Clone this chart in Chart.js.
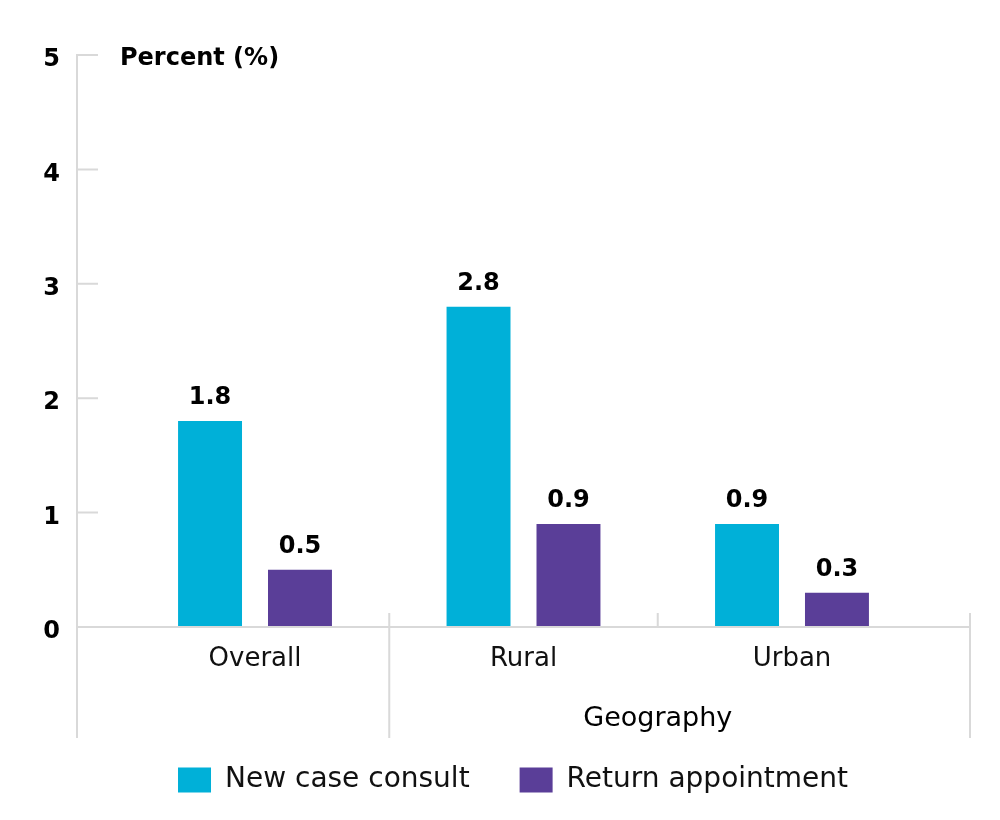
<!DOCTYPE html>
<html>
<head>
<meta charset="utf-8">
<script src="https://cdn.jsdelivr.net/npm/chart.js@4/dist/chart.umd.min.js"></script>
<style>
  body { margin: 0; background: #fff; }
  #wrap { width: 1000px; height: 820px; }
</style>
</head>
<body>
<div id="wrap"><canvas id="myChart" width="1000" height="820"></canvas></div>
<script>
const categories = ["Overall", "Rural", "Urban"];
const newCaseConsult = [1.8, 2.8, 0.9];
const returnAppointment = [0.5, 0.9, 0.3];
const yTicks = [0, 1, 2, 3, 4, 5];
const seriesNames = ["New case consult", "Return appointment"];
const groupLabel = "Geography";

const FONT = "'DejaVu Sans', 'Noto Sans', sans-serif";
const LINE = "#d9d9d9";

// axis lines, short ticks, separators and extra text
const decorPlugin = {
    id: "decor",
    afterLayout(chart) {
        // legend sits a bit right of centre in the original
        chart.legend.left += 28;
        chart.legend.right += 28;
    },
    afterDatasetsDraw(chart) {
        const ctx = chart.ctx;
        const x = chart.scales.x, y = chart.scales.y;
        const left = chart.chartArea.left, right = chart.chartArea.right;
        const zero = y.getPixelForValue(0);
        const bottom = zero + 111;

        ctx.save();
        ctx.strokeStyle = LINE;
        ctx.lineWidth = 2;
        ctx.beginPath();
        // y axis
        ctx.moveTo(left, y.getPixelForValue(5) - 1);
        ctx.lineTo(left, bottom);
        // x axis
        ctx.moveTo(left, zero);
        ctx.lineTo(right, zero);
        // tick marks
        yTicks.forEach(v => {
            const py = y.getPixelForValue(v);
            ctx.moveTo(left, py);
            ctx.lineTo(left + 21, py);
        });
        // separators
        const s1 = x.getPixelForValue(0.5), s2 = x.getPixelForValue(1.5);
        ctx.moveTo(s1, zero - 14); ctx.lineTo(s1, bottom);
        ctx.moveTo(s2, zero - 14); ctx.lineTo(s2, zero);
        ctx.moveTo(right, zero - 14); ctx.lineTo(right, bottom);
        ctx.stroke();

        // value labels
        ctx.fillStyle = "#000";
        ctx.font = "bold 24px " + FONT;
        ctx.textAlign = "center";
        ctx.textBaseline = "bottom";
        chart.data.datasets.forEach((ds, di) => {
            chart.getDatasetMeta(di).data.forEach((bar, i) => {
                ctx.fillText(ds.data[i].y.toFixed(1), bar.x, bar.y - 11);
            });
        });

        // group label
        ctx.font = "27px " + FONT;
        ctx.textBaseline = "middle";
        ctx.fillText(groupLabel, (x.getPixelForValue(1) + x.getPixelForValue(2)) / 2, zero + 92);

        // axis title
        ctx.font = "bold 24px " + FONT;
        ctx.textAlign = "left";
        ctx.fillText("Percent (%)", left + 43, y.getPixelForValue(5) + 4);
        ctx.restore();
    }
};

const ctx = document.getElementById("myChart").getContext("2d");
new Chart(ctx, {
    type: "bar",
    data: {
        datasets: [{
            label: seriesNames[0],
            data: categories.map((c, i) => ({ x: i, y: newCaseConsult[i] })),
            backgroundColor: "#00b0d8"
        }, {
            label: seriesNames[1],
            data: categories.map((c, i) => ({ x: i, y: returnAppointment[i] })),
            backgroundColor: "#5a3e98"
        }]
    },
    options: {
        responsive: false,
        animation: false,
        categoryPercentage: 0.67,
        barPercentage: 0.711,
        layout: { padding: { top: 55, right: 30, left: 0, bottom: 16 } },
        scales: {
            x: {
                type: "linear",
                offset: false,
                min: -0.663,
                max: 2.663,
                grid: { display: false, drawTicks: false },
                border: { display: false },
                afterBuildTicks: scale => {
                    scale.ticks = categories.map((c, i) => ({ value: i }));
                },
                afterFit: scale => { scale.height = 89; },
                ticks: {
                    autoSkip: false,
                    maxRotation: 0,
                    padding: 17,
                    color: "#111",
                    font: { family: FONT, size: 26 },
                    callback: v => categories[v]
                }
            },
            y: {
                min: 0,
                max: 5,
                grid: { display: false, drawTicks: false },
                border: { display: false },
                afterFit: scale => { scale.width = 77; },
                ticks: {
                    stepSize: 1,
                    padding: 17,
                    labelOffset: 5,
                    color: "#000",
                    font: { family: FONT, size: 24, weight: "bold" }
                }
            }
        },
        plugins: {
            legend: {
                position: "bottom",
                labels: {
                    boxWidth: 33,
                    boxHeight: 25,
                    padding: 50,
                    color: "#111",
                    font: { family: FONT, size: 28 }
                }
            },
            tooltip: { enabled: false }
        }
    },
    plugins: [decorPlugin]
});
</script>
</body>
</html>
